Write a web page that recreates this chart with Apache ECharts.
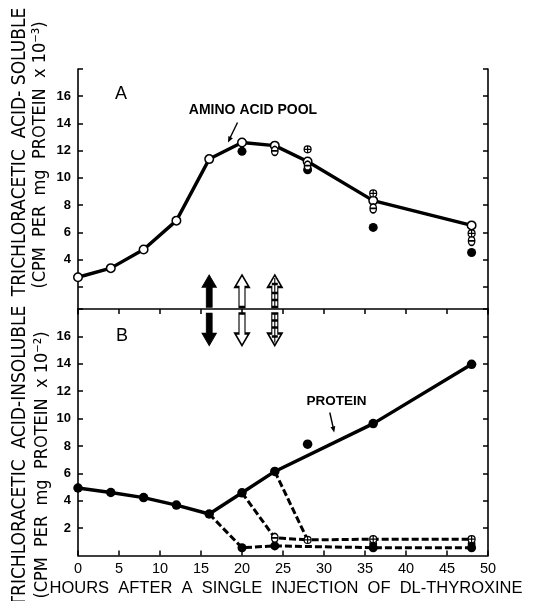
<!DOCTYPE html>
<html>
<head>
<meta charset="utf-8">
<script src="https://cdn.jsdelivr.net/npm/echarts@6/dist/echarts.min.js"></script>
<style>
  html, body { margin: 0; padding: 0; background: #fff; }
  #chart { width: 533px; height: 601px; }
</style>
</head>
<body>
<div id="chart"></div>
<script>
// ---- Panel A: trichloracetic acid-soluble counts (x 10^-3) ----
const poolHours   = [0, 4, 8, 12, 16, 20, 24, 28, 36, 48];
const poolValues  = [2.7, 3.37, 4.74, 6.86, 11.38, 12.6, 12.37, 11.2, 8.33, 6.51];
const solFilledHours  = [20, 28, 36, 48];
const solFilledValues = [11.95, 10.6, 6.36, 4.52];
const solBarredHours  = [24, 28, 36, 48];
const solBarredValues = [11.98, 10.9, 7.76, 5.37];
const solCrossedHours  = [28, 36, 48];
const solCrossedValues = [12.1, 8.86, 5.92];

// ---- Panel B: trichloracetic acid-insoluble counts (x 10^-2) ----
const proteinHours  = [0, 4, 8, 12, 16, 20, 24, 36, 48];
const proteinValues = [4.93, 4.6, 4.23, 3.68, 3.03, 4.58, 6.14, 9.63, 13.96];
const proteinOffHours  = [28];
const proteinOffValues = [8.13];
const chase16Hours  = [16, 20, 24, 36, 48];
const chase16Values = [3.03, 0.57, 0.7, 0.57, 0.57];
const chase20Hours  = [20, 24, 28];
const chase20Values = [4.58, 1.29, 1.14];
const chase24Hours  = [24, 28, 36, 48];
const chase24Values = [6.14, 1.14, 1.19, 1.19];
const insolBarredHours  = [36, 48];
const insolBarredValues = [0.85, 0.85];

// injection markers (time of chase)
const chaseHours = [16, 20, 24];
const arrowLevelA = 1.69;
const arrowLevelB = 16.5;

// axis ticks
const hourTicks = [0, 5, 10, 15, 20, 25, 30, 35, 40, 45, 50];
const countTicks = [2, 4, 6, 8, 10, 12, 14, 16, 18];
const labelsA = [4, 6, 8, 10, 12, 14, 16];
const labelsB = [2, 4, 6, 8, 10, 12, 14, 16];

const pairs = (xs, ys) => xs.map((x, i) => [x, ys[i]]);

const SYM_CROSS  = 'path://M0,5a5,5 0 1,0 10,0a5,5 0 1,0 -10,0ZM5,0L5,10M0,5L10,5';
const SYM_BARRED = 'path://M0,6a4,6 0 1,0 8,0a4,6 0 1,0 -8,0ZM0,6L8,6';
const ARROW_UP   = 'path://M7,0L14,12L10,12L10,32L4,32L4,12L0,12Z';
const ARROW_UP_H = 'path://M7,0L14,12L10,12L10,32L4,32L4,12L0,12ZM7,3L7,32M4,9L10,9M4,18L10,18M4,25L10,25';
const ARROW_DN   = 'path://M7,32L14,20L10,20L10,0L4,0L4,20L0,20Z';
const ARROW_DN_H = 'path://M7,32L14,20L10,20L10,0L4,0L4,20L0,20ZM7,0L7,29M4,7L10,7M4,14L10,14M4,23L10,23';

const BLACK = '#000';
const tickFont = { color: BLACK, fontFamily: 'Liberation Sans, Arial, sans-serif' };
const openStyle = { color: '#fff', borderColor: BLACK, borderWidth: 1.5, opacity: 1 };
const solidStyle = { color: BLACK, opacity: 1 };

function yAxisDef(grid, pos, labels) {
  return {
    type: 'value', gridIndex: grid, position: pos, min: 0, max: 18, interval: 2,
    axisLine: { show: true, onZero: false, lineStyle: { color: BLACK, width: 1.6 } },
    axisTick: { show: true, inside: true, length: 5, customValues: countTicks,
                lineStyle: { color: BLACK, width: 1.5 } },
    axisLabel: labels ? Object.assign({
      show: true, margin: 7, fontSize: 13, fontWeight: 'bold',
      formatter: v => labels.indexOf(v) >= 0 ? String(v) : ''
    }, tickFont) : { show: false },
    splitLine: { show: false }
  };
}

const option = {
  backgroundColor: '#fff',
  animation: false,
  grid: [
    { left: 78, right: 45, top: 69, bottom: 287 },
    { left: 78, right: 45, top: 309, bottom: 45.5 }
  ],
  xAxis: [
    { type: 'value', gridIndex: 0, min: 0, max: 50, interval: 5,
      axisLine: { show: false }, axisTick: { show: false }, axisLabel: { show: false },
      splitLine: { show: false } },
    { type: 'value', gridIndex: 1, position: 'bottom', min: 0, max: 50, interval: 5,
      axisLine: { show: true, onZero: false, lineStyle: { color: BLACK, width: 1.6 } },
      axisTick: { show: true, inside: true, length: 5, lineStyle: { color: BLACK, width: 1.5 } },
      axisLabel: Object.assign({ margin: 6, fontSize: 14.5,
        formatter: v => hourTicks.indexOf(v) >= 0 ? String(v) : '' }, tickFont),
      splitLine: { show: false } },
    { type: 'value', gridIndex: 1, position: 'top', min: 0, max: 50, interval: 5,
      axisLine: { show: true, onZero: false, lineStyle: { color: BLACK, width: 1.6 } },
      axisTick: { show: true, inside: true, length: 5, lineStyle: { color: BLACK, width: 1.5 } },
      axisLabel: { show: false }, splitLine: { show: false } }
  ],
  yAxis: [
    yAxisDef(0, 'left', labelsA),
    yAxisDef(0, 'right', null),
    yAxisDef(1, 'left', labelsB),
    yAxisDef(1, 'right', null)
  ],
  series: [
    // ---------- panel A ----------
    { name: 'Amino acid pool', type: 'line', xAxisIndex: 0, yAxisIndex: 0,
      data: pairs(poolHours, poolValues), z: 3,
      symbol: 'circle', symbolSize: 8.5, showAllSymbol: true,
      lineStyle: { color: BLACK, width: 3.4 },
      itemStyle: openStyle },
    { type: 'scatter', xAxisIndex: 0, yAxisIndex: 0, z: 4,
      data: pairs(solFilledHours, solFilledValues),
      symbol: 'circle', symbolSize: 9, itemStyle: solidStyle },
    { type: 'scatter', xAxisIndex: 0, yAxisIndex: 0, z: 4,
      data: pairs(solBarredHours, solBarredValues),
      symbol: SYM_BARRED, symbolSize: [6.5, 9],
      itemStyle: openStyle },
    { type: 'scatter', xAxisIndex: 0, yAxisIndex: 0, z: 4,
      data: pairs(solCrossedHours, solCrossedValues),
      symbol: SYM_CROSS, symbolSize: 7,
      itemStyle: { color: '#fff', borderColor: BLACK, borderWidth: 1.2, opacity: 1 } },
    { type: 'scatter', xAxisIndex: 0, yAxisIndex: 0, z: 4,
      data: chaseHours.map((h, i) => ({
        value: [h, arrowLevelA],
        symbol: i === 2 ? ARROW_UP_H : ARROW_UP,
        itemStyle: i === 0 ? { color: BLACK, borderColor: BLACK, borderWidth: 1, opacity: 1 }
                           : { color: '#fff', borderColor: BLACK, borderWidth: 1.7, opacity: 1 }
      })),
      symbolSize: [14, 32] },

    // ---------- panel B ----------
    { name: 'Protein', type: 'line', xAxisIndex: 1, yAxisIndex: 2, z: 3,
      data: pairs(proteinHours, proteinValues),
      symbol: 'circle', symbolSize: 9.5, showAllSymbol: true,
      lineStyle: { color: BLACK, width: 3.4 }, itemStyle: solidStyle },
    { type: 'scatter', xAxisIndex: 1, yAxisIndex: 2, z: 4,
      data: pairs(proteinOffHours, proteinOffValues),
      symbol: 'circle', symbolSize: 9.5, itemStyle: solidStyle },
    { type: 'line', xAxisIndex: 1, yAxisIndex: 2, z: 2,
      data: pairs(chase16Hours, chase16Values).map((p, i) => ({
        value: p, symbol: i === 0 ? 'none' : 'circle' })),
      symbolSize: 9, showAllSymbol: true,
      lineStyle: { color: BLACK, width: 3, type: [7, 3] }, itemStyle: solidStyle },
    { type: 'line', xAxisIndex: 1, yAxisIndex: 2, z: 2,
      data: pairs(chase20Hours, chase20Values).map((p, i) => ({
        value: p, symbol: i === 1 ? SYM_BARRED : 'none' })),
      symbolSize: [6.5, 9], showAllSymbol: true,
      lineStyle: { color: BLACK, width: 3, type: [7, 3] },
      itemStyle: openStyle },
    { type: 'line', xAxisIndex: 1, yAxisIndex: 2, z: 2,
      data: pairs(chase24Hours, chase24Values).map((p, i) => ({
        value: p, symbol: i === 0 ? 'none' : SYM_CROSS })),
      symbolSize: 7, showAllSymbol: true,
      lineStyle: { color: BLACK, width: 3, type: [7, 3] },
      itemStyle: { color: '#fff', borderColor: BLACK, borderWidth: 1.2, opacity: 1 } },
    { type: 'scatter', xAxisIndex: 1, yAxisIndex: 2, z: 1,
      data: pairs(insolBarredHours, insolBarredValues),
      symbol: SYM_BARRED, symbolSize: [6.5, 9],
      itemStyle: openStyle },
    { type: 'scatter', xAxisIndex: 1, yAxisIndex: 2, z: 4,
      data: chaseHours.map((h, i) => ({
        value: [h, arrowLevelB],
        symbol: i === 2 ? ARROW_DN_H : ARROW_DN,
        itemStyle: i === 0 ? { color: BLACK, borderColor: BLACK, borderWidth: 1, opacity: 1 }
                           : { color: '#fff', borderColor: BLACK, borderWidth: 1.7, opacity: 1 }
      })),
      symbolSize: [14, 32] }
  ],
  graphic: [
    // axis titles
    { type: 'text', x: 20, y: 152, rotation: Math.PI / 2,
      style: { text: 'TRICHLORACETIC  ACID- SOLUBLE', fill: BLACK, fontSize: 19,
               fontFamily: 'Liberation Sans Narrow, DejaVu Sans Condensed, sans-serif',
               align: 'center', verticalAlign: 'middle' } },
    { type: 'text', x: 40, y: 155, rotation: Math.PI / 2,
      style: { text: '(CPM  PER  mg  PROTEIN  x 10⁻³)', fill: BLACK, fontSize: 18,
               fontFamily: 'Liberation Sans Narrow, DejaVu Sans Condensed, sans-serif',
               align: 'center', verticalAlign: 'middle' } },
    { type: 'text', x: 20, y: 456, rotation: Math.PI / 2,
      style: { text: 'TRICHLORACETIC  ACID-INSOLUBLE', fill: BLACK, fontSize: 19,
               fontFamily: 'Liberation Sans Narrow, DejaVu Sans Condensed, sans-serif',
               align: 'center', verticalAlign: 'middle' } },
    { type: 'text', x: 42, y: 465, rotation: Math.PI / 2,
      style: { text: '(CPM  PER  mg  PROTEIN  x 10⁻²)', fill: BLACK, fontSize: 18,
               fontFamily: 'Liberation Sans Narrow, DejaVu Sans Condensed, sans-serif',
               align: 'center', verticalAlign: 'middle' } },
    { type: 'text', x: 286, y: 588.5,
      style: { text: 'HOURS  AFTER  A  SINGLE  INJECTION  OF  DL-THYROXINE', fill: BLACK,
               fontSize: 16.5, fontFamily: 'Liberation Sans, Arial, sans-serif',
               align: 'center', verticalAlign: 'middle' } },
    // panel letters
    { type: 'text', x: 121, y: 94,
      style: { text: 'A', fill: BLACK, fontSize: 18, fontFamily: 'Liberation Sans, Arial, sans-serif',
               align: 'center', verticalAlign: 'middle' } },
    { type: 'text', x: 122, y: 336.5,
      style: { text: 'B', fill: BLACK, fontSize: 18, fontFamily: 'Liberation Sans, Arial, sans-serif',
               align: 'center', verticalAlign: 'middle' } },
    // curve annotations
    { type: 'text', x: 253, y: 110,
      style: { text: 'AMINO ACID POOL', fill: BLACK, fontSize: 14, fontWeight: 'bold',
               fontFamily: 'Liberation Sans, Arial, sans-serif',
               align: 'center', verticalAlign: 'middle' } },
    { type: 'line', shape: { x1: 237.5, y1: 122.5, x2: 229.5, y2: 139 },
      style: { stroke: BLACK, lineWidth: 1.4 } },
    { type: 'polygon', shape: { points: [[228, 142.5], [232.9, 138.2], [228.4, 136]] },
      style: { fill: BLACK } },
    { type: 'text', x: 336.5, y: 401.5,
      style: { text: 'PROTEIN', fill: BLACK, fontSize: 13.5, fontWeight: 'bold',
               fontFamily: 'Liberation Sans, Arial, sans-serif',
               align: 'center', verticalAlign: 'middle' } },
    { type: 'line', shape: { x1: 329.8, y1: 412.5, x2: 333.5, y2: 429 },
      style: { stroke: BLACK, lineWidth: 1.4 } },
    { type: 'polygon', shape: { points: [[334.2, 432.5], [335.3, 426.1], [330.5, 427.2]] },
      style: { fill: BLACK } }
  ]
};

const chart = echarts.init(document.getElementById('chart'), null, { renderer: 'canvas' });
chart.setOption(option);
</script>
</body>
</html>
